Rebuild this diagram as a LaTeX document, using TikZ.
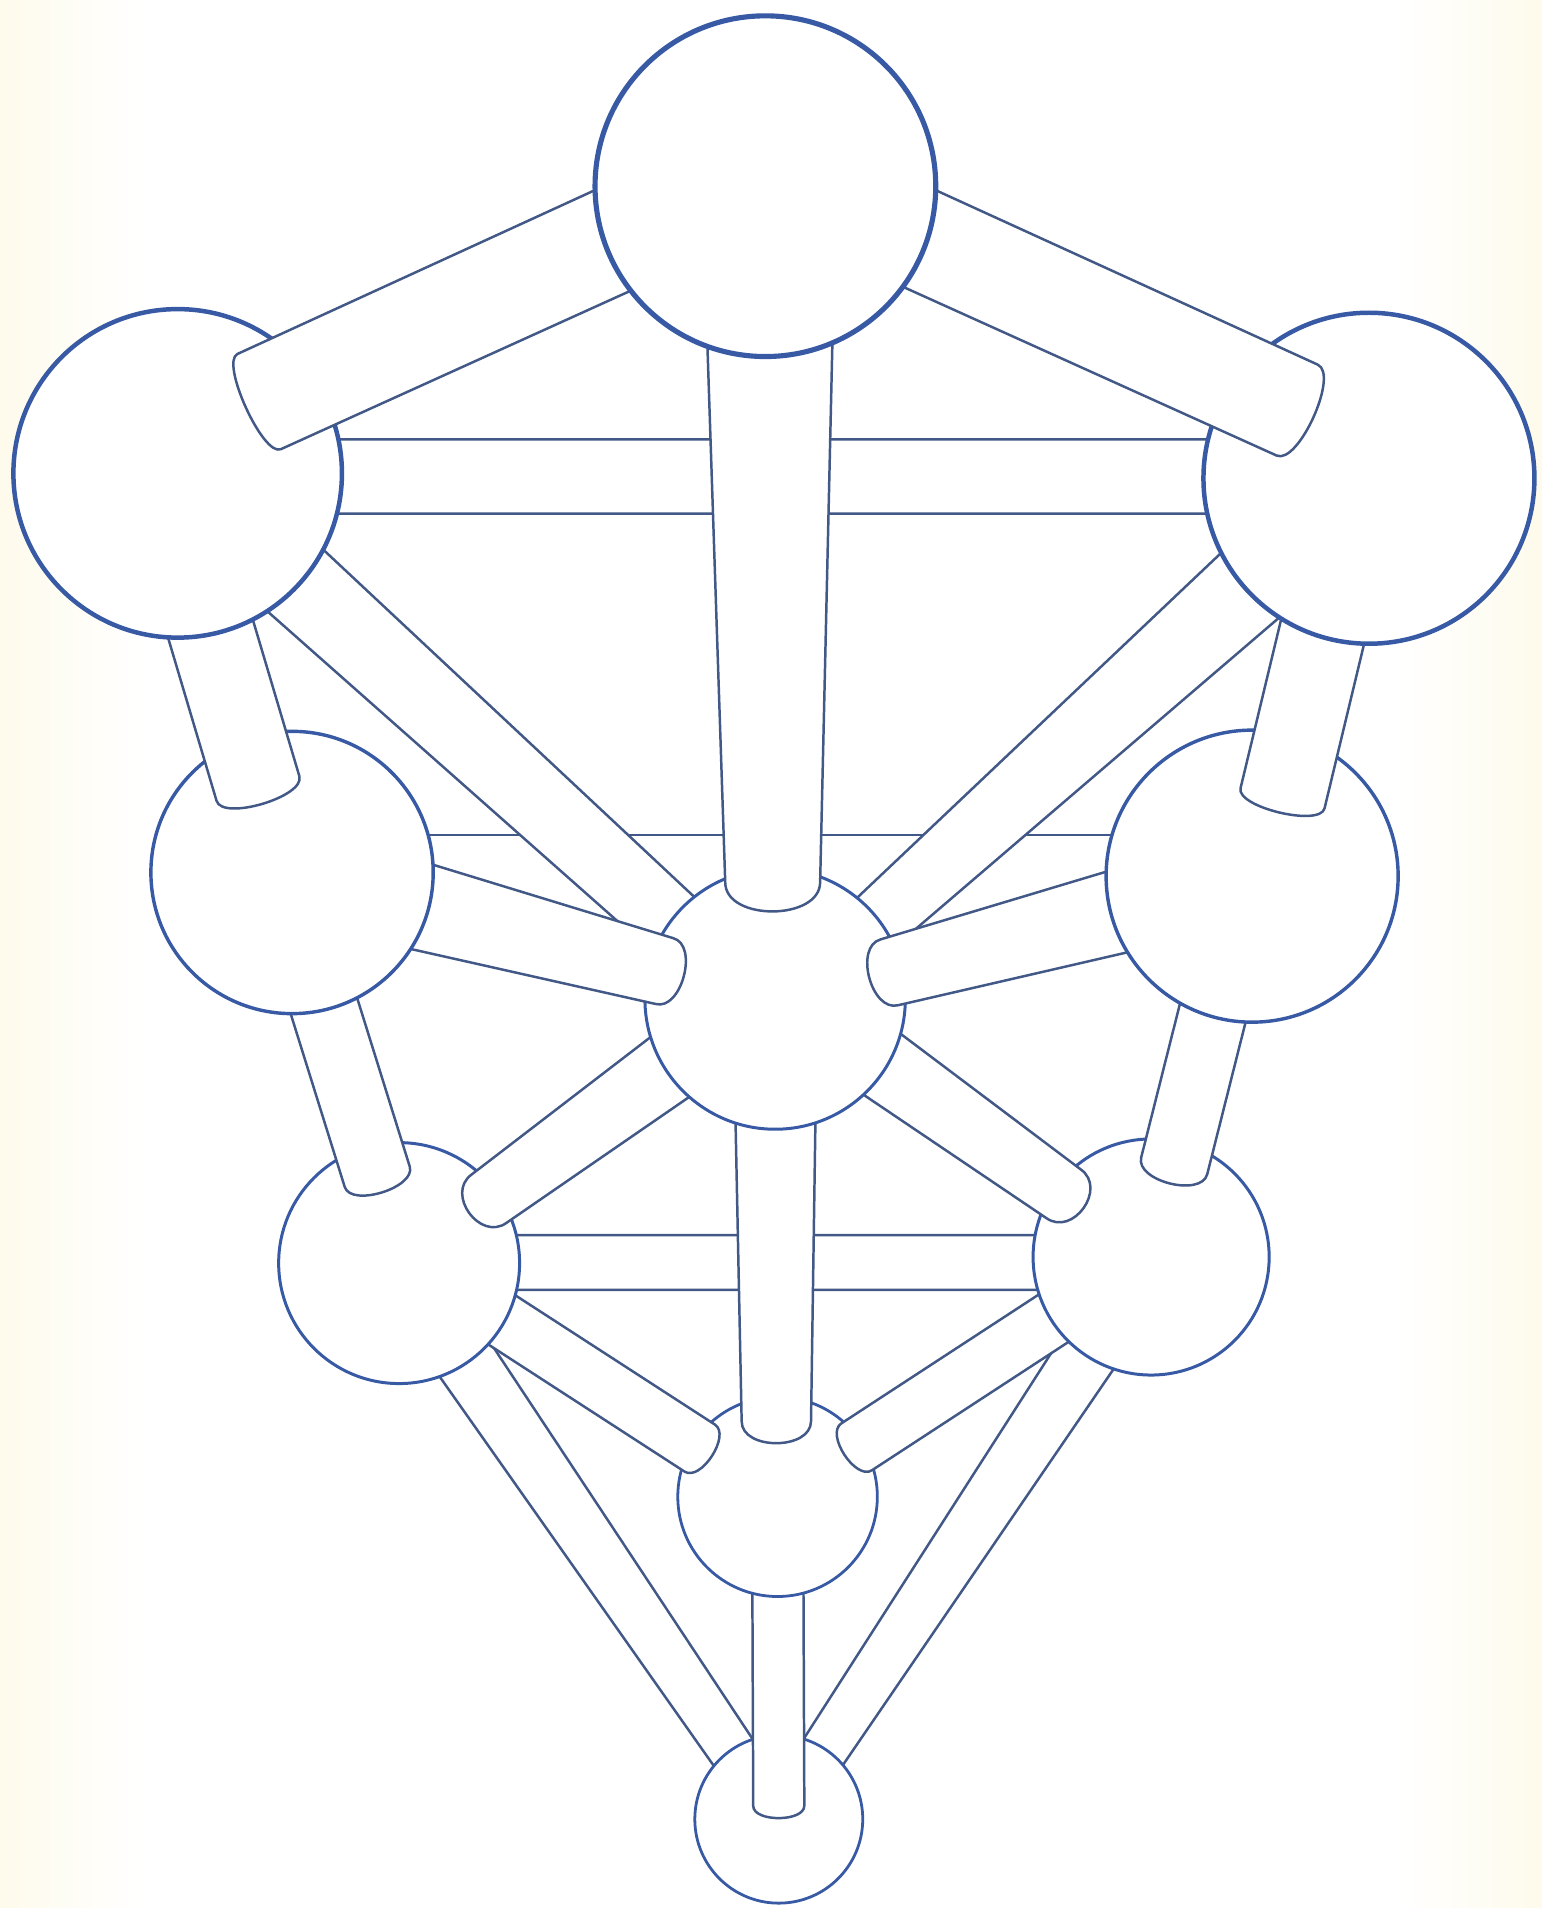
\documentclass[tikz,border=0pt]{standalone}
\usetikzlibrary{calc}
\definecolor{ballblue}{RGB}{56,90,164}
\definecolor{stickblue}{RGB}{66,88,134}
\definecolor{paper}{RGB}{254,251,236}
\tikzset{
  stickstyle/.style={draw=stickblue, fill=white, line width=0.58pt, line join=round, line cap=round},
  stickline/.style={draw=stickblue, line width=0.58pt, line cap=round},
  ball/.style={circle, draw=ballblue, fill=white, inner sep=0pt, outer sep=0pt, minimum size=#1},
}
% #1 hidden end, #2 capped end, #3 half width at #1, #4 half width at #2, #5 cap control length
\newcommand\stick[5]{%
  \coordinate (sAp) at ($(#1)!#3!90:(#2)$);
  \coordinate (sAm) at ($(#1)!#3!-90:(#2)$);
  \coordinate (sBp) at ($(#2)!#4!-90:(#1)$);
  \coordinate (sBm) at ($(#2)!#4!90:(#1)$);
  \coordinate (sCp) at ($(sBp)!#5!90:(sBm)$);
  \coordinate (sCm) at ($(sBm)!#5!-90:(sBp)$);
  \filldraw[stickstyle] (sAp) -- (sBp) .. controls (sCp) and (sCm) .. (sBm) -- (sAm);
}
\begin{document}
\begin{tikzpicture}[x=0.1mm,y=-0.1mm]
\useasboundingbox (0,0) rectangle (1267,1568);
\fill[white] (0,0) rectangle (1267,1568);
\shade[left color=paper, right color=white] (0,0) rectangle (120,1568);
\shade[left color=white, right color=paper] (1147,0) rectangle (1267,1568);

% sphere centres
\coordinate (cK)  at (629,153);
\coordinate (cB)  at (146,389);
\coordinate (cCh) at (1125,393);
\coordinate (cG)  at (240,717);
\coordinate (cCs) at (1029,720);
\coordinate (cT)  at (637,821);
\coordinate (cH)  at (328,1038);
\coordinate (cN)  at (946,1033);
\coordinate (cY)  at (639,1230);
\coordinate (cM)  at (640,1495);

% stick end points
\coordinate (kb1) at ($(cK)+(1,-13)$);   \coordinate (kb2) at (213,330);
\coordinate (kc1) at ($(cK)+(1,-14)$);   \coordinate (kc2) at (1066,337);
\coordinate (kt1) at ($(cK)+(3,0)$);     \coordinate (kt2) at (635,725);
\coordinate (bc1) at ($(cB)+(0,2.5)$);   \coordinate (bc2) at ($(cCh)+(0,-1.5)$);
\coordinate (bg1) at ($(cB)+(-11,0)$);   \coordinate (bg2) at (212,648);
\coordinate (cc1) at ($(cCh)+(-8,1)$);   \coordinate (cc2) at (1054,656);
\coordinate (bt2) at ($(cT)+(-12,4)$);
\coordinate (ct0) at ($(cT)+(13,0)$);
\coordinate (gt2) at (546,798);
\coordinate (cs2) at (731,799);
\coordinate (gh1) at ($(cG)+(-8,0)$);    \coordinate (gh2) at (310,967);
\coordinate (cn1) at ($(cCs)+(-4,0)$);   \coordinate (cn2) at (965,958);
\coordinate (th1) at ($(cT)+(0,-7)$);    \coordinate (th2) at (402,985);
\coordinate (tn1) at ($(cT)+(0,-9)$);    \coordinate (tn2) at (874,981);
\coordinate (ty2) at (638,1168);
\coordinate (hn1) at ($(cH)+(0,-0.5)$);  \coordinate (hn2) at ($(cN)+(0,4.5)$);
\coordinate (hy1) at ($(cH)+(0,-8)$);    \coordinate (hy2) at (575,1190);
\coordinate (ny1) at ($(cN)+(0,-2)$);    \coordinate (ny2) at (704,1189);
\coordinate (ym2) at (640,1484);
\coordinate (cg1) at ($(cG)+(0,-31)$);   \coordinate (cg2) at ($(cCs)+(0,-34)$);

% ---- back layer ----
\fill[white] (cg1) rectangle ($(cg2)+(0,84)$);
\draw[stickline] (cg1) -- (cg2);
\stick{bc1}{bc2}{3.05mm}{3.05mm}{0mm}
\stick{cB}{bt2}{3.6mm}{2.7mm}{0mm}
\stick{cCh}{ct0}{3.9mm}{2.3mm}{0mm}
\stick{hn1}{hn2}{2.25mm}{2.25mm}{0mm}
\stick{cH}{cM}{2.65mm}{1.84mm}{0mm}
\stick{cN}{cM}{2.65mm}{1.84mm}{0mm}

\node[ball=13.8mm, line width=0.65pt] (nM) at (cM) {};
\stick{cY}{ym2}{2.1mm}{2.1mm}{1.35mm}
\node[ball=16.4mm, line width=0.65pt] (nY) at (cY) {};
\stick{hy1}{hy2}{2.3mm}{2.3mm}{1.6mm}
\stick{ny1}{ny2}{2.3mm}{2.3mm}{1.6mm}
\stick{cT}{ty2}{3.46mm}{2.85mm}{2.4mm}
\node[ball=19.8mm, line width=0.7pt] (nH) at (cH) {};
\node[ball=19.4mm, line width=0.7pt] (nN) at (cN) {};
\stick{th1}{th2}{3.2mm}{2.45mm}{2.7mm}
\stick{tn1}{tn2}{3.2mm}{2.45mm}{2.7mm}
\node[ball=21.4mm, line width=0.7pt] (nT) at (cT) {};
\stick{cG}{gt2}{4.0mm}{2.8mm}{2.2mm}
\stick{cCs}{cs2}{3.8mm}{2.8mm}{2.3mm}
\stick{kt1}{kt2}{5.5mm}{3.9mm}{3.2mm}
\stick{gh1}{gh2}{2.8mm}{2.8mm}{1.8mm}
\stick{cn1}{cn2}{2.8mm}{2.8mm}{2.0mm}
\node[ball=23.2mm, line width=0.8pt] (nG) at (cG) {};
\node[ball=24mm, line width=0.8pt] (nCs) at (cCs) {};
\stick{bg1}{bg2}{3.55mm}{3.55mm}{1.75mm}
\stick{cc1}{cc2}{3.55mm}{3.55mm}{1.6mm}
\node[ball=27mm, line width=1.05pt] (nB) at (cB) {};
\node[ball=27.2mm, line width=1.05pt] (nCh) at (cCh) {};
\stick{kb1}{kb2}{4.4mm}{4.3mm}{1.6mm}
\stick{kc1}{kc2}{4.2mm}{4.1mm}{1.95mm}
\node[ball=28mm, line width=1.2pt] (nK) at (cK) {};
\end{tikzpicture}
\end{document}
